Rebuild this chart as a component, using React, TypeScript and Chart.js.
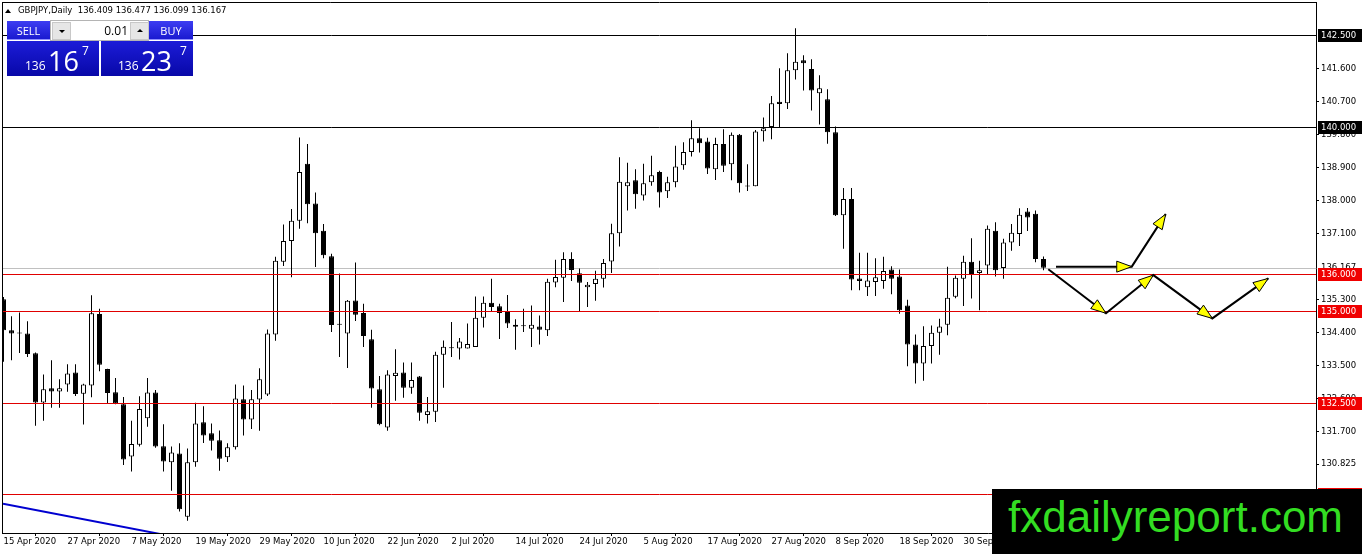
import React, { useEffect, useRef } from "react";
import { Chart, registerables } from "chart.js";

Chart.register(...registerables);

// ---------- data ----------
const dates = [
  "04-15","04-16","04-17","04-20","04-21","04-22","04-23","04-24",
  "04-27","04-28","04-29","04-30","05-01","05-04","05-05","05-06",
  "05-07","05-08","05-11","05-12","05-13","05-14","05-15","05-18",
  "05-19","05-20","05-21","05-22","05-25","05-26","05-27","05-28",
  "05-29","06-01","06-02","06-03","06-04","06-05","06-08","06-09",
  "06-10","06-11","06-12","06-15","06-16","06-17","06-18","06-19",
  "06-22","06-23","06-24","06-25","06-26","06-29","06-30","07-01",
  "07-02","07-03","07-06","07-07","07-08","07-09","07-10","07-13",
  "07-14","07-15","07-16","07-17","07-20","07-21","07-22","07-23",
  "07-24","07-27","07-28","07-29","07-30","07-31","08-03","08-04",
  "08-05","08-06","08-07","08-10","08-11","08-12","08-13","08-14",
  "08-17","08-18","08-19","08-20","08-21","08-24","08-25","08-26",
  "08-27","08-28","08-31","09-01","09-02","09-03","09-04","09-07",
  "09-08","09-09","09-10","09-11","09-14","09-15","09-16","09-17",
  "09-18","09-21","09-22","09-23","09-24","09-25","09-28","09-29",
  "09-30","10-01","10-02","10-05","10-06","10-07","10-08","10-09",
  "10-12","10-13","10-14",
];

const open = [
  135.31,134.47,134.39,134.38,133.84,132.50,132.89,132.80,132.99,133.32,
  132.74,132.96,134.91,133.41,132.78,132.45,131.03,131.35,132.07,132.77,
  131.31,130.87,131.11,129.39,130.87,131.96,131.66,131.47,131.01,131.28,
  132.59,132.04,132.58,132.72,134.35,136.33,136.90,137.45,139.00,137.92,
  137.18,136.48,134.62,134.38,135.28,134.94,134.22,132.86,131.82,133.22,
  133.32,132.90,133.21,132.16,132.25,133.80,133.99,133.97,133.97,134.01,
  134.81,135.22,135.12,134.99,134.62,134.60,134.51,134.57,134.47,135.77,
  135.90,136.41,136.02,135.64,135.73,135.87,136.34,137.11,138.39,138.55,
  138.14,138.50,138.78,138.25,138.50,138.96,139.32,139.70,139.61,138.85,
  139.54,138.99,139.79,138.41,138.39,139.89,140.00,140.69,140.65,141.55,
  141.82,141.58,140.92,140.76,139.86,137.60,138.04,135.88,135.64,135.78,
  135.81,136.12,135.93,135.14,134.08,133.56,134.04,134.40,134.62,135.38,
  135.87,136.33,136.03,136.23,137.18,136.16,136.86,137.09,137.70,137.64,
  136.409,
];
const high = [
  135.37,134.85,134.95,134.71,133.86,133.26,133.65,133.13,133.54,133.54,
  133.01,135.42,135.05,133.42,133.17,132.65,132.00,132.67,133.17,132.84,
  131.91,131.30,131.39,131.25,132.49,132.40,131.93,131.74,131.39,132.99,
  132.96,132.84,133.43,134.49,136.47,137.35,137.77,139.72,139.54,138.22,
  137.36,136.55,136.01,135.29,136.31,135.19,134.48,133.22,133.38,133.95,
  133.59,133.59,133.22,132.65,133.88,134.19,134.69,134.26,134.65,135.39,
  135.39,135.87,135.19,135.43,134.77,135.05,135.14,134.87,135.87,136.39,
  136.59,136.59,136.15,135.78,136.09,136.41,137.37,139.18,139.03,138.85,
  139.00,139.22,138.81,138.65,139.49,139.59,140.19,139.97,139.71,139.71,
  139.94,139.85,139.81,138.99,139.92,140.26,140.85,141.60,142.01,142.69,
  141.96,141.85,141.41,141.03,140.02,138.34,138.34,136.58,136.58,136.43,
  136.47,136.21,136.12,135.30,134.35,134.58,134.60,134.78,136.20,135.96,
  136.50,136.97,136.36,137.32,137.41,136.96,137.36,137.79,137.80,137.73,
  136.477,
];
const low = [
  133.61,133.65,133.85,133.74,131.87,132.00,132.36,132.36,132.79,132.68,
  131.90,132.64,133.35,132.47,132.45,130.80,130.62,131.30,131.84,131.27,
  130.62,130.10,129.53,129.28,130.75,131.40,131.19,130.64,130.88,131.22,
  131.60,131.78,131.73,132.68,134.18,136.22,135.91,137.23,137.38,136.19,
  136.43,134.42,133.74,133.44,134.72,134.01,132.36,131.88,131.73,132.55,
  132.63,132.74,132.00,131.93,131.97,132.90,133.74,133.67,133.97,134.01,
  134.54,134.99,134.23,134.53,133.94,134.42,134.01,134.08,134.31,135.64,
  135.24,135.81,134.97,135.10,135.27,135.63,136.03,136.75,137.73,137.78,
  138.00,138.40,137.81,138.07,138.36,138.84,139.20,139.31,138.72,138.56,
  138.78,138.55,138.22,138.26,138.39,139.61,139.67,140.00,140.49,141.30,
  141.00,140.45,140.07,139.55,137.58,136.69,135.56,135.56,135.40,135.40,
  135.60,135.45,134.92,133.49,133.02,133.09,133.56,133.80,134.33,135.34,
  135.13,135.33,135.01,135.98,135.93,135.87,136.63,136.76,137.17,136.32,
  136.099,
];
const close = [
  134.47,134.38,134.38,133.82,132.50,132.86,132.80,132.89,133.29,132.73,
  132.99,134.93,133.53,132.76,132.47,130.95,131.37,132.32,132.77,131.30,
  130.89,131.14,129.59,130.87,131.93,131.60,131.46,130.97,131.28,132.61,
  132.04,132.59,133.13,134.38,136.36,136.90,137.45,138.78,137.90,137.11,
  136.51,134.61,134.64,135.27,134.89,134.31,132.88,131.91,133.26,133.31,
  132.90,133.11,132.22,132.26,133.80,134.02,133.98,134.16,134.09,134.81,
  135.22,135.10,134.94,134.65,134.56,134.58,134.62,134.48,135.79,135.92,
  136.41,136.11,135.76,135.71,135.87,136.30,137.11,138.51,138.50,138.17,
  138.47,138.69,138.22,138.50,138.93,139.32,139.70,139.56,138.87,139.54,
  138.95,139.79,138.47,138.38,139.88,139.97,140.65,140.63,141.55,141.78,
  141.74,141.00,141.06,139.86,137.60,138.04,135.85,135.81,135.82,135.91,
  136.08,135.87,135.01,134.08,133.56,134.04,134.40,134.57,135.35,135.90,
  136.33,136.00,136.10,137.23,136.10,136.86,137.12,137.61,137.54,136.41,
  136.167,
];

const xTickIndex = [0, 8, 16, 24, 32, 40, 48, 56, 64, 72, 80, 88, 96, 104, 112, 120, 128];
const xTickLabels = [
  "15 Apr 2020", "27 Apr 2020", "7 May 2020", "19 May 2020", "29 May 2020",
  "10 Jun 2020", "22 Jun 2020", "2 Jul 2020", "14 Jul 2020", "24 Jul 2020",
  "5 Aug 2020", "17 Aug 2020", "27 Aug 2020", "8 Sep 2020", "18 Sep 2020",
  "30 Sep 2020", "12 Oct 2020",
];
const yTickValues = [141.6, 140.7, 139.8, 138.9, 138.0, 137.1, 135.3, 134.4, 133.5, 132.6, 131.7, 130.825];

const blackLevels = [142.5, 140.0];
const redLevels = [136.0, 135.0, 132.5, 130.0];
const bidPrice = 136.167;

const trendLine = [
  [-0.0625, 129.74],
  [19.56, 128.92],
];
const arrowPathA = [
  [131.56, 136.2],
  [141.03, 136.2],
  [145.28, 137.63],
];
const arrowPathB = [
  [130.6, 136.13],
  [137.81, 134.93],
  [143.73, 135.97],
  [151.1, 134.79],
  [158.1, 135.88],
];

// ---------- scale window ----------
const X_MIN = -0.0625;
const X_MAX = 164.0625;
const Y_MIN = 128.946;
const Y_MAX = 143.38;

const AXIS_FONT = "DejaVu Sans";

function drawHead(ctx: CanvasRenderingContext2D, x0: number, y0: number, x1: number, y1: number) {
  const ang = Math.atan2(y1 - y0, x1 - x0);
  const L = 15;
  const W = 5.5;
  const c = Math.cos(ang);
  const s = Math.sin(ang);
  const bx = x1 - L * c;
  const by = y1 - L * s;
  ctx.beginPath();
  ctx.moveTo(x1, y1);
  ctx.lineTo(bx - W * s, by + W * c);
  ctx.lineTo(bx + W * s, by - W * c);
  ctx.closePath();
  ctx.fillStyle = "#ffff00";
  ctx.fill();
  ctx.lineWidth = 1;
  ctx.strokeStyle = "#000";
  ctx.stroke();
}

function drawArrowPath(chart: any, path: number[][]) {
  const { ctx, scales } = chart;
  const pts = path.map((p) => [scales.x.getPixelForValue(p[0]), scales.y.getPixelForValue(p[1])]);
  ctx.save();
  ctx.strokeStyle = "#000";
  ctx.lineWidth = 2;
  ctx.beginPath();
  pts.forEach((p, i) => (i ? ctx.lineTo(p[0], p[1]) : ctx.moveTo(p[0], p[1])));
  ctx.stroke();
  for (let i = 1; i < pts.length; i++) {
    drawHead(ctx, pts[i - 1][0], pts[i - 1][1], pts[i][0], pts[i][1]);
  }
  ctx.restore();
}

const overlayPlugin = {
  id: "mt4overlay",
  beforeDatasetsDraw(chart: any) {
    const { ctx, chartArea: a, scales } = chart;
    const py = Math.round(scales.y.getPixelForValue(bidPrice)) + 0.5;
    ctx.save();
    ctx.strokeStyle = "#c0c0c0";
    ctx.lineWidth = 1;
    ctx.beginPath();
    ctx.moveTo(a.left, py);
    ctx.lineTo(a.right, py);
    ctx.stroke();
    ctx.restore();
  },
  afterDatasetsDraw(chart: any) {
    const { ctx, chartArea: a, scales } = chart;
    ctx.save();
    ctx.beginPath();
    ctx.rect(a.left, a.top, a.right - a.left, a.bottom - a.top);
    ctx.clip();
    ctx.lineWidth = 1;
    const line = (v: number, color: string) => {
      const py = Math.round(scales.y.getPixelForValue(v)) + 0.5;
      ctx.strokeStyle = color;
      ctx.beginPath();
      ctx.moveTo(a.left, py);
      ctx.lineTo(a.right, py);
      ctx.stroke();
    };
    blackLevels.forEach((v) => line(v, "#000"));
    redLevels.forEach((v) => line(v, "#e00000"));
    drawArrowPath(chart, arrowPathA);
    drawArrowPath(chart, arrowPathB);
    ctx.restore();
  },
  afterDraw(chart: any) {
    const { ctx, chartArea: a, scales } = chart;
    ctx.save();
    ctx.strokeStyle = "#000";
    ctx.lineWidth = 1;
    ctx.beginPath();
    ctx.moveTo(2.5, 2);
    ctx.lineTo(2.5, a.bottom + 1);
    ctx.moveTo(2, 2.5);
    ctx.lineTo(a.right + 1, 2.5);
    ctx.stroke();

    ctx.font = `8.5px '${AXIS_FONT}'`;
    ctx.textBaseline = "middle";
    ctx.textAlign = "left";
    const bx = a.right + 1;
    const tx = a.right + 5;
    const by = scales.y.getPixelForValue(bidPrice);
    ctx.fillStyle = "#fff";
    ctx.fillRect(bx, by - 6, 46, 12);
    ctx.fillStyle = "#000";
    ctx.fillText(bidPrice.toFixed(3), tx, by);
    const box = (v: number, color: string) => {
      const py = Math.round(scales.y.getPixelForValue(v));
      ctx.fillStyle = color;
      ctx.fillRect(bx + 1, py - 6, 46, 13);
      ctx.fillStyle = "#fff";
      ctx.fillText(v.toFixed(3), tx, py + 0.5);
    };
    blackLevels.forEach((v) => box(v, "#000"));
    redLevels.forEach((v) => box(v, "#f00000"));
    ctx.restore();
  },
};

export default function App() {
  const ref = useRef<HTMLCanvasElement>(null);

  useEffect(() => {
    document.body.style.margin = "0";
    const idx = dates.map((_, i) => i);
    const wickData = idx.map((i) => ({ x: i, y: [low[i], high[i]] }));
    const bodyData = idx.map((i) => ({ x: i, y: [Math.min(open[i], close[i]), Math.max(open[i], close[i])] }));
    const bodyColors = idx.map((i) => (close[i] >= open[i] ? "#ffffff" : "#000000"));

    const chart = new Chart(ref.current as HTMLCanvasElement, {
      type: "bar",
      data: {
        datasets: [
          {
            type: "bar",
            label: "wick",
            data: wickData as any,
            backgroundColor: "#000",
            borderWidth: 0,
            barThickness: 1,
            maxBarThickness: 1,
            grouped: false,
            inflateAmount: 0,
            order: 3,
          } as any,
          {
            type: "bar",
            label: "body",
            data: bodyData as any,
            backgroundColor: bodyColors,
            borderColor: "#000",
            borderWidth: 1,
            borderSkipped: false,
            barThickness: 5,
            maxBarThickness: 5,
            minBarLength: 1,
            grouped: false,
            inflateAmount: 0,
            order: 2,
          } as any,
          {
            type: "line",
            label: "trend",
            data: trendLine.map((p) => ({ x: p[0], y: p[1] })) as any,
            borderColor: "#0000d0",
            borderWidth: 2,
            pointRadius: 0,
            fill: false,
            order: 1,
          } as any,
        ],
      },
      options: {
        animation: false,
        responsive: false,
        events: [],
        layout: { padding: { left: 3, top: 3, right: 0, bottom: 0 } },
        plugins: { legend: { display: false }, tooltip: { enabled: false } },
        scales: {
          x: {
            type: "linear",
            min: X_MIN,
            max: X_MAX,
            offset: false,
            afterBuildTicks: (s: any) => {
              s.ticks = xTickIndex.map((v) => ({ value: v }));
            },
            afterFit: (s: any) => {
              s.height = 21;
              s.paddingLeft = 0;
              s.paddingRight = 0;
            },
            ticks: {
              autoSkip: false,
              maxRotation: 0,
              minRotation: 0,
              align: "start",
              padding: 1,
              color: "#000",
              font: { family: AXIS_FONT, size: 8.5 },
              callback: (v: any) => {
                const k = xTickIndex.indexOf(Number(v));
                return k >= 0 ? xTickLabels[k] : "";
              },
            },
            grid: { drawOnChartArea: false, drawTicks: true, tickLength: 3, color: "#000" },
            border: { display: true, color: "#000" },
          } as any,
          y: {
            type: "linear",
            position: "right",
            min: Y_MIN,
            max: Y_MAX,
            afterBuildTicks: (s: any) => {
              s.ticks = yTickValues.map((v) => ({ value: v }));
            },
            afterFit: (s: any) => {
              s.width = 46;
              s.paddingTop = 0;
              s.paddingBottom = 0;
            },
            ticks: {
              autoSkip: false,
              padding: 2,
              color: "#000",
              font: { family: AXIS_FONT, size: 8.5 },
              callback: (v: any) => Number(v).toFixed(3),
            },
            grid: { drawOnChartArea: false, drawTicks: true, tickLength: 3, color: "#000" },
            border: { display: true, color: "#000" },
          } as any,
        },
      },
      plugins: [overlayPlugin],
    });
    return () => chart.destroy();
  }, []);

  const btn: React.CSSProperties = {
    position: "absolute",
    top: 21,
    height: 19,
    background: "linear-gradient(#3d3df2, #1a1ad0)",
    color: "#fff",
    font: "11px 'Open Sans'",
    display: "flex",
    alignItems: "center",
    justifyContent: "center",
    boxSizing: "border-box",
    borderBottom: "1px solid #8f8fff",
  };
  const priceBox: React.CSSProperties = {
    position: "absolute",
    top: 41,
    width: 92,
    height: 35,
    background: "linear-gradient(#1c1cd8, #0808a8)",
  };
  const span = (left: number, top: number, size: number, text: string) => (
    <span
      style={{
        position: "absolute",
        left,
        top,
        fontFamily: "'Open Sans'",
        fontSize: size,
        lineHeight: `${size}px`,
        color: "#fff",
        whiteSpace: "nowrap",
      }}
    >
      {text}
    </span>
  );
  const smallBtn: React.CSSProperties = {
    position: "absolute",
    top: 22,
    width: 19,
    height: 18,
    background: "#e6e6e6",
    border: "1px solid #c8c8c8",
    boxSizing: "border-box",
  };

  return (
    <div style={{ position: "relative", width: 1362, height: 554, overflow: "hidden", background: "#fff" }}>
      <canvas ref={ref} width={1362} height={554} style={{ display: "block", width: 1362, height: 554 }} />
      {/* title */}
      <div
        style={{
          position: "absolute",
          left: 5,
          top: 9,
          width: 0,
          height: 0,
          borderLeft: "3px solid transparent",
          borderRight: "3px solid transparent",
          borderBottom: "4px solid #000",
        }}
      />
      <div
        style={{
          position: "absolute",
          left: 18,
          top: 5,
          font: `8.5px '${AXIS_FONT}'`,
          lineHeight: "11px",
          color: "#000",
          whiteSpace: "pre",
        }}
      >
        {"GBPJPY,Daily  136.409 136.477 136.099 136.167"}
      </div>
      {/* trade panel */}
      <div style={{ ...btn, left: 7, width: 43 }}>SELL</div>
      <div
        style={{
          position: "absolute",
          left: 50,
          top: 20,
          width: 99,
          height: 21,
          background: "#fff",
          border: "1px solid #b4b4b4",
          boxSizing: "border-box",
        }}
      />
      <div style={{ ...smallBtn, left: 52 }}>
        <div
          style={{
            position: "absolute",
            left: 6,
            top: 7,
            width: 0,
            height: 0,
            borderLeft: "3px solid transparent",
            borderRight: "3px solid transparent",
            borderTop: "3px solid #000",
          }}
        />
      </div>
      <div
        style={{
          position: "absolute",
          left: 72,
          top: 22,
          width: 56,
          height: 18,
          font: "12px 'Open Sans'",
          lineHeight: "18px",
          textAlign: "right",
          color: "#000",
        }}
      >
        0.01
      </div>
      <div style={{ ...smallBtn, left: 130 }}>
        <div
          style={{
            position: "absolute",
            left: 6,
            top: 6,
            width: 0,
            height: 0,
            borderLeft: "3px solid transparent",
            borderRight: "3px solid transparent",
            borderBottom: "3px solid #000",
          }}
        />
      </div>
      <div style={{ ...btn, left: 149, width: 44 }}>BUY</div>
      <div style={{ ...priceBox, left: 7 }} />
      <div style={{ ...priceBox, left: 101 }} />
      {span(25, 60, 12, "136")}
      {span(48, 47, 27, "16")}
      {span(82, 45, 12, "7")}
      {span(118, 60, 12, "136")}
      {span(141, 47, 27, "23")}
      {span(180, 45, 12, "7")}
      {/* watermark */}
      <div style={{ position: "absolute", left: 992, top: 489, width: 370, height: 65, background: "#000" }} />
      <div
        style={{
          position: "absolute",
          left: 1008,
          top: 495,
          font: "44px 'Liberation Sans'",
          lineHeight: "44px",
          color: "#33dd22",
          whiteSpace: "nowrap",
        }}
      >
        fxdailyreport.com
      </div>
    </div>
  );
}
